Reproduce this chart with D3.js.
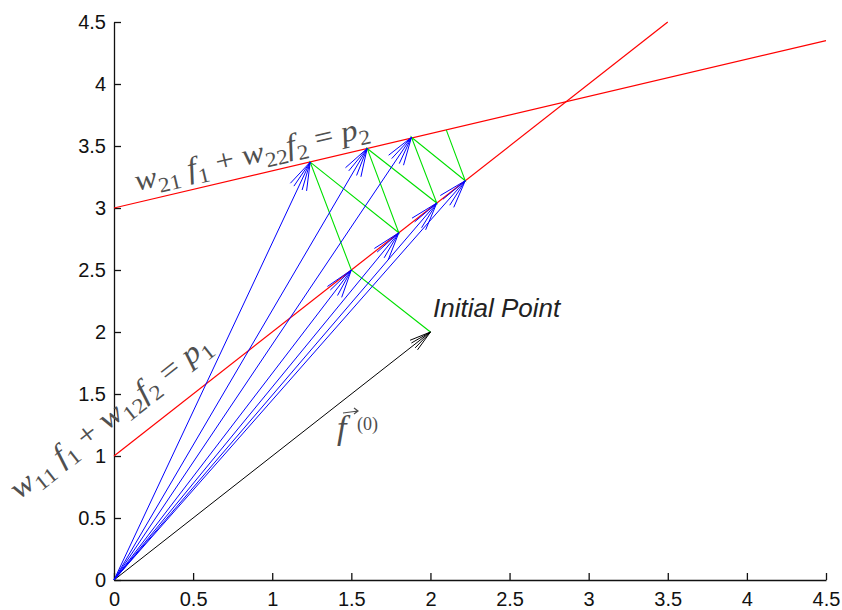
<!DOCTYPE html>
<html>
<head>
<meta charset="utf-8">
<script src="https://cdn.jsdelivr.net/npm/d3@7"></script>
<style>
  body { margin: 0; background: #fff; }
  svg text { font-family: "Liberation Sans", Arial, Helvetica, sans-serif; }
</style>
</head>
<body>
<svg id="chart" width="842" height="610"></svg>
<script>
// tick values for both axes
const tickValues = [0, 0.5, 1, 1.5, 2, 2.5, 3, 3.5, 4, 4.5];

// constraint lines (end points)
const line1F1 = [0, 3.5];
const line1F2 = [1, 4.5];
const line2F1 = [0, 4.5];
const line2F2 = [3, 4.35];

// iterates: initial point first, then alternate projections
const iterF1 = [2, 1.5, 1.24, 1.80, 1.60, 2.04, 1.88, 2.22, 2.10];
const iterF2 = [2, 2.5, 3.37, 2.80, 3.48, 3.04, 3.57, 3.22, 3.63];

// label tokens: [text, kind]  i = italic, s = subscript, r = roman
const label1Tokens = [["w", "i"], ["11", "s"], [" f", "i"], ["1", "s"], [" + ", "r"], ["w", "i"], ["12", "s"], ["f", "i"], ["2", "s"], [" = ", "r"], ["p", "i"], ["1", "s"]];
const label2Tokens = [["w", "i"], ["21", "s"], [" f", "i"], ["1", "s"], [" + ", "r"], ["w", "i"], ["22", "s"], ["f", "i"], ["2", "s"], [" = ", "r"], ["p", "i"], ["2", "s"]];

let svg = d3.select('#chart'),
    margin = {top: 22, right: 16, bottom: 30, left: 114},
    width = +svg.attr("width"),
    height = +svg.attr("height");

let x = d3.scaleLinear().domain([0, 4.5]).range([margin.left, width - margin.right]);
let y = d3.scaleLinear().domain([0, 4.5]).range([height - margin.bottom, margin.top]);

// axes, ticks pointing inward
let xAxis = d3.axisBottom(x).tickValues(tickValues).tickFormat(d => String(d))
    .tickSizeInner(-7).tickSizeOuter(0).tickPadding(12);
let yAxis = d3.axisLeft(y).tickValues(tickValues).tickFormat(d => String(d))
    .tickSizeInner(-7).tickSizeOuter(0).tickPadding(8);

let gx = svg.append("g").attr("transform", "translate(0," + y(0) + ")").call(xAxis);
let gy = svg.append("g").attr("transform", "translate(" + x(0) + ",0)").call(yAxis);
[gx, gy].forEach(g => {
    g.selectAll("text").attr("font-size", 20).attr("fill", "#111")
        .attr("font-family", '"Liberation Sans", Arial, sans-serif');
    g.selectAll("path, line").attr("stroke", "#111").attr("stroke-width", 1.3);
});

// red constraint lines
let lines = svg.append("g").attr("fill", "none").attr("stroke", "#ff0000").attr("stroke-width", 1.2);
lines.append("line")
    .attr("x1", x(line1F1[0])).attr("y1", y(line1F2[0]))
    .attr("x2", x(line1F1[1])).attr("y2", y(line1F2[1]));
lines.append("line")
    .attr("x1", x(line2F1[0])).attr("y1", y(line2F2[0]))
    .attr("x2", x(line2F1[1])).attr("y2", y(line2F2[1]));

// green projection path
let pts = iterF1.map((d, i) => [d, iterF2[i]]);
svg.append("path")
    .attr("d", d3.line().x(d => x(d[0])).y(d => y(d[1]))(pts))
    .attr("fill", "none").attr("stroke", "#00e000").attr("stroke-width", 1.1);

// arrow from origin with a fan-like head
function drawArrow(g, px, py, len, spread) {
    let x0 = x(0), y0 = y(0), x1 = x(px), y1 = y(py);
    g.append("line").attr("x1", x0).attr("y1", y0).attr("x2", x1).attr("y2", y1);
    let ang = Math.atan2(y0 - y1, x0 - x1);
    spread.forEach(a => {
        let t = ang + a * Math.PI / 180;
        g.append("line")
            .attr("x1", x1).attr("y1", y1)
            .attr("x2", x1 + len * Math.cos(t)).attr("y2", y1 + len * Math.sin(t));
    });
}

let black = svg.append("g").attr("stroke", "#000").attr("stroke-width", 1);
drawArrow(black, iterF1[0], iterF2[0], 22, [-16, -8, 8, 16]);

let blue = svg.append("g").attr("stroke", "#0000ff").attr("stroke-width", 1);
for (let i = 1; i < iterF1.length - 1; i++) {
    drawArrow(blue, iterF1[i], iterF2[i], 29, [-18, -9, 9, 18]);
}

// rotated math labels along the lines
function mathLabel(tokens, x0, y0, angle, targetLen) {
    let g = svg.append("g").attr("transform", "translate(" + x0 + "," + y0 + ") rotate(" + angle + ")");
    let t = g.append("text")
        .attr("fill", "#505050")
        .attr("font-size", 30)
        .style("font-family", '"Liberation Serif", "DejaVu Serif", serif');
    let shifted = 0;
    tokens.forEach(tok => {
        let ts = t.append("tspan").text(tok[0]).attr("xml:space", "preserve");
        if (tok[1] === "s") {
            ts.attr("font-size", 21).attr("dy", 7 - shifted);
            shifted = 7;
        } else {
            if (shifted) ts.attr("dy", -shifted);
            shifted = 0;
            if (tok[1] === "i") ts.attr("font-style", "italic");
        }
    });
    let w = t.node().getComputedTextLength();
    t.attr("transform", "scale(" + (targetLen / w) + ",1)");
}

let ang1 = Math.atan2(y(line1F2[1]) - y(line1F2[0]), x(line1F1[1]) - x(line1F1[0])) * 180 / Math.PI;
let ang2 = Math.atan2(y(line2F2[1]) - y(line2F2[0]), x(line2F1[1]) - x(line2F1[0])) * 180 / Math.PI;
mathLabel(label1Tokens, 19, 500, ang1, 246);
mathLabel(label2Tokens, 137, 191, ang2, 240);

// initial point label
svg.append("text")
    .attr("x", 433).attr("y", 317)
    .attr("font-size", 26).attr("font-style", "italic").attr("fill", "#222")
    .text("Initial Point");

// vector label f(0)
let fl = svg.append("g").attr("fill", "#4d4d4d");
fl.append("text")
    .attr("x", 337).attr("y", 439)
    .attr("font-size", 34).attr("font-style", "italic")
    .style("font-family", '"Liberation Serif", "DejaVu Serif", serif')
    .text("f");
fl.append("text")
    .attr("x", 357).attr("y", 430)
    .attr("font-size", 18)
    .style("font-family", '"Liberation Serif", "DejaVu Serif", serif')
    .text("(0)");
let va = fl.append("g").attr("stroke", "#4d4d4d").attr("stroke-width", 1.2).attr("fill", "none");
va.append("path").attr("d", "M343,413 L358,411 M354,408 L358,411 L354,414");
</script>
</body>
</html>
